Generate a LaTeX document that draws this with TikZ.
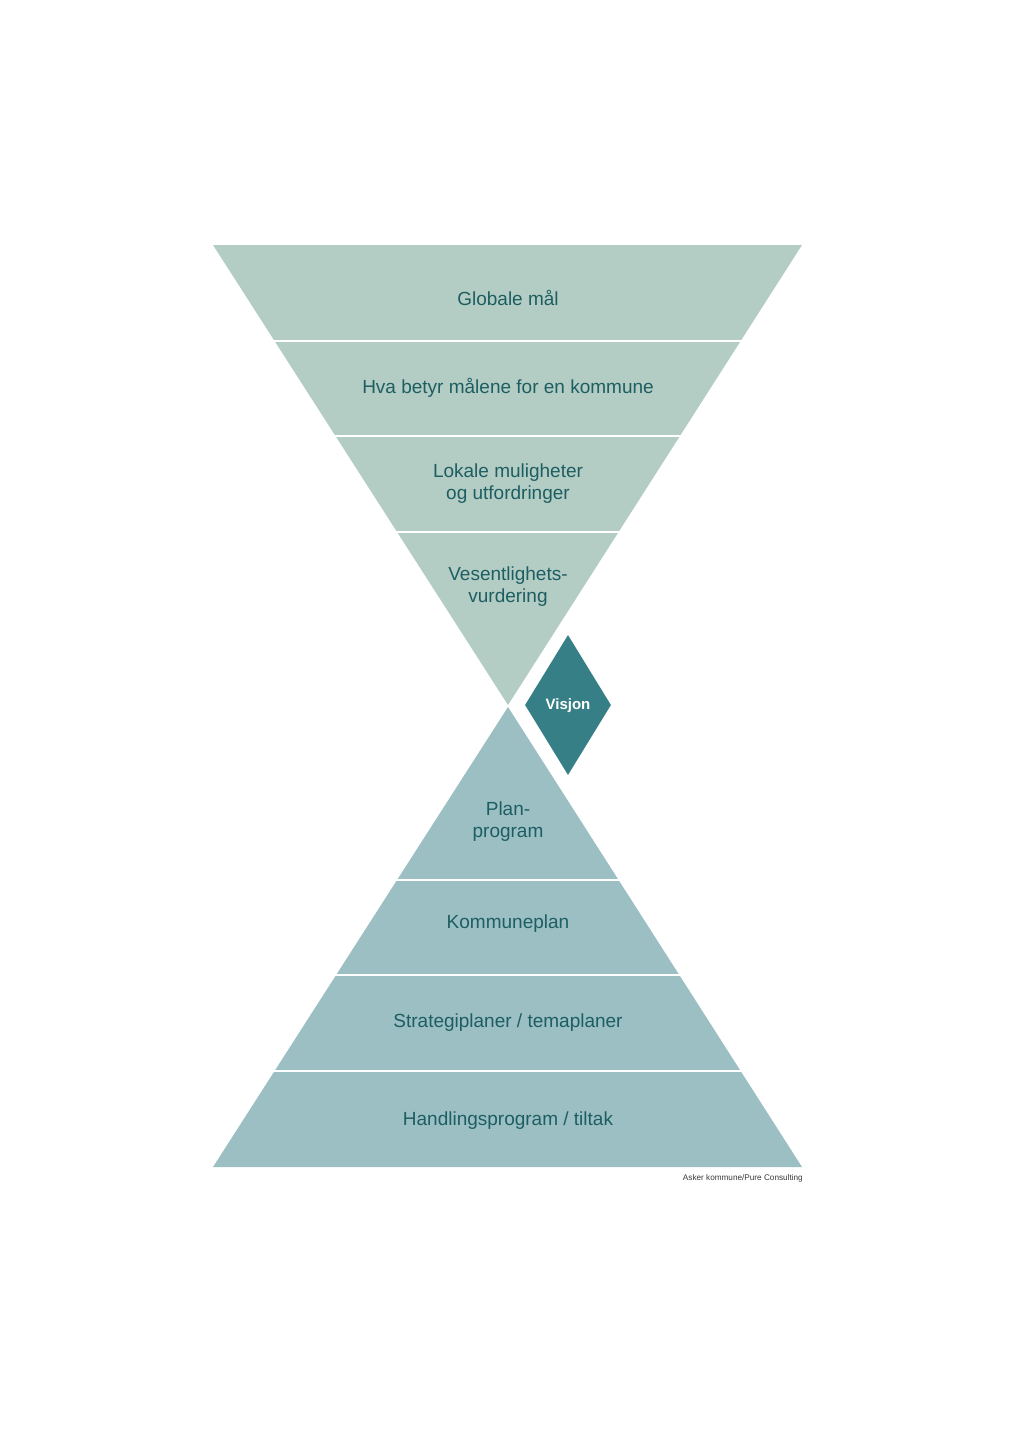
\documentclass[tikz,border=0pt]{standalone}
\usepackage{fontspec}
\setmainfont{Liberation Sans}
\usetikzlibrary{shapes.geometric}
\definecolor{Sage}{HTML}{B4CDC4}
\definecolor{Mist}{HTML}{9CBFC3}
\definecolor{DeepTeal}{HTML}{377F86}
\definecolor{InkTeal}{HTML}{1D5E62}
\definecolor{CreditGray}{HTML}{3A3A3A}
\tikzset{
  bandtext/.style={text=InkTeal,align=center,inner sep=0pt,
    font=\fontsize{19}{22}\selectfont},
  gap/.style={white,line width=2.5pt},
}

\begin{document}
\begin{tikzpicture}[x=1pt,y=-1pt]
    \useasboundingbox[fill=white] (0,0) rectangle (1014,1435);
    % funnel and pyramid
    \fill[Sage] (213,245)--(802,245)--(508,705)--cycle;
    \fill[Mist] (508,707)--(802,1167)--(213,1167)--cycle;
    \foreach \y/\hw in {341/233,436/172,532/111}
      \draw[gap] (508-\hw-4,\y)--(508+\hw+4,\y);
    \foreach \y/\hw in {880/110,975/171,1071/233}
      \draw[gap] (508-\hw-4,\y)--(508+\hw+4,\y);
    \foreach \y/\name/\txt in {
      298/globale/{Globale mål},
      388/maalene/{Hva betyr målene for en kommune},
      484/lokale/{Lokale muligheter\\og utfordringer},
      587/vesentlig/{Vesentlighets-\\vurdering},
      822/planprog/{Plan-\\program},
      924/kplan/{Kommuneplan},
      1023/strategi/{Strategiplaner / temaplaner},
      1121/handling/{Handlingsprogram / tiltak}}
      {
        \node[bandtext] (\name) at (508,\y) {\txt};
      }
    \node[diamond,aspect=0.6,fill=DeepTeal,inner sep=0pt,
      minimum width=86,minimum height=140,text=white,
      font=\fontsize{15}{18}\selectfont\bfseries] (visjon) at (568,705)
      {\raisebox{-4.5pt}[0pt][0pt]{Visjon}};
    \node[anchor=north east,inner sep=0pt,text=CreditGray,
      font=\fontsize{8.2}{9}\selectfont] (kilde) at (803,1174)
      {Asker kommune/Pure Consulting};
  \end{tikzpicture}
\end{document}
